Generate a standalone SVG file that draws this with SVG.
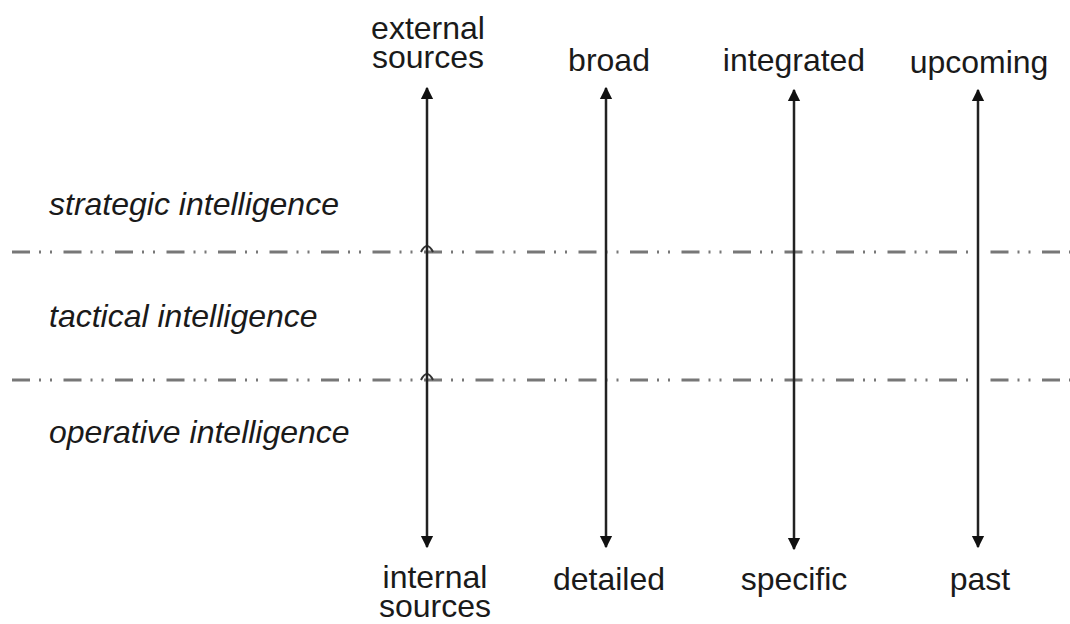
<svg xmlns="http://www.w3.org/2000/svg" width="1070" height="624" viewBox="0 0 1070 624">
<style>
.lbl{font-family:"Liberation Sans",Arial,sans-serif;font-size:32px;fill:#1a1a1a;text-anchor:middle}
.lvl{font-family:"Liberation Sans",Arial,sans-serif;font-size:32px;font-style:italic;fill:#1a1a1a}
.axis{stroke:#222;stroke-width:2.5;fill:none}
.sep{stroke:#777;stroke-width:3;fill:none;stroke-dasharray:18 9 2 9 2 11.5}
</style>
<defs>
<marker id="ah" viewBox="0 0 10 10" refX="9" refY="5" markerWidth="5" markerHeight="6" markerUnits="strokeWidth" orient="auto-start-reverse">
<path d="M0,0 L10,5 L0,10 Z" fill="#111"/>
</marker>
</defs>
<g id="levels">
<text id="strategic" class="lvl" x="49" y="215">strategic intelligence</text>
<text id="tactical" class="lvl" x="49" y="327">tactical intelligence</text>
<text id="operative" class="lvl" x="49" y="443">operative intelligence</text>
</g>
<g id="separators">
<line class="sep" x1="12" y1="252" x2="1070" y2="252"/>
<line class="sep" x1="12" y1="380" x2="1070" y2="380"/>
<path d="M421,252 Q427,240 433,252" stroke="#333" stroke-width="2" fill="none"/>
<path d="M421,380 Q427,368 433,380" stroke="#333" stroke-width="2" fill="none"/>
</g>
<g id="connectors">
<line class="axis" x1="427" y1="88" x2="427" y2="547" marker-start="url(#ah)" marker-end="url(#ah)"/>
<line class="axis" x1="606" y1="88" x2="606" y2="547" marker-start="url(#ah)" marker-end="url(#ah)"/>
<line class="axis" x1="794" y1="90" x2="794" y2="549" marker-start="url(#ah)" marker-end="url(#ah)"/>
<line class="axis" x1="978" y1="90" x2="978" y2="547" marker-start="url(#ah)" marker-end="url(#ah)"/>
</g>
<g id="axis1">
<text class="lbl" x="428" y="39">external</text>
<text class="lbl" x="428" y="68">sources</text>
<text class="lbl" x="435" y="588">internal</text>
<text class="lbl" x="435" y="617">sources</text>
</g>
<g id="axis2">
<text class="lbl" x="609" y="71">broad</text>
<text class="lbl" x="609" y="590">detailed</text>
</g>
<g id="axis3">
<text class="lbl" x="794" y="71">integrated</text>
<text class="lbl" x="794" y="590">specific</text>
</g>
<g id="axis4">
<text class="lbl" x="979" y="73">upcoming</text>
<text class="lbl" x="980" y="590">past</text>
</g>
</svg>
